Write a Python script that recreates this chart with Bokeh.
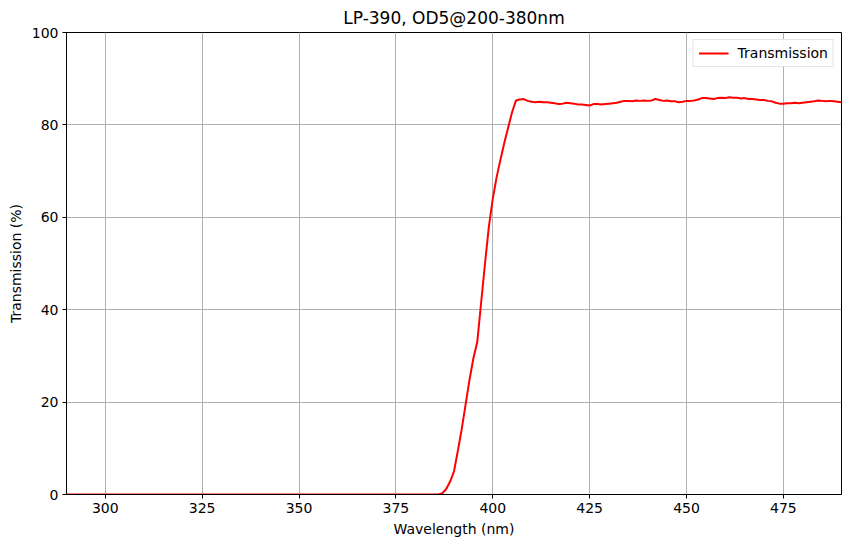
from bokeh.models import Range1d, Legend, LegendItem, FixedTicker
from bokeh.plotting import figure
from bokeh.embed import file_html
from bokeh.resources import INLINE

# flat (blocked) region, 0 % transmission
flat_nm = [290, 386]
flat_t = [0.0, 0.0]

# edge and pass band, 1 nm steps
edge_nm = list(range(387, 491))
edge_t = [
    0.3, 1.2, 2.8, 5.0, 9.5, 14.2, 19.5, 24.8, 29.5, 33.0,       # 387-396
    41.5, 50.0, 58.0, 64.0, 68.7, 72.5, 76.2, 79.5, 82.8, 85.3,  # 397-406
    85.5, 85.6, 85.2, 85.0, 84.9, 85.0, 84.9, 84.9, 84.8, 84.7,  # 407-416
    84.5, 84.6, 84.8, 84.7, 84.6, 84.4, 84.4, 84.3, 84.2, 84.5,  # 417-426
    84.5, 84.4, 84.5, 84.6, 84.7, 84.8, 85.0, 85.2, 85.2, 85.1,  # 427-436
    85.3, 85.2, 85.3, 85.2, 85.3, 85.6, 85.4, 85.2, 85.3, 85.1,  # 437-446
    85.1, 84.9, 85.0, 85.2, 85.2, 85.3, 85.5, 85.8, 85.8, 85.7,  # 447-456
    85.6, 85.8, 85.9, 85.8, 86.0, 85.9, 85.9, 85.7, 85.8, 85.6,  # 457-466
    85.6, 85.5, 85.4, 85.4, 85.2, 85.1, 84.8, 84.6, 84.6, 84.7,  # 467-476
    84.7, 84.8, 84.7, 84.8, 84.9, 85.0, 85.1, 85.3, 85.2, 85.1,  # 477-486
    85.2, 85.1, 85.0, 84.9,                                      # 487-490
]

x_ticks = [300, 325, 350, 375, 400, 425, 450, 475]
y_ticks = [0, 20, 40, 60, 80, 100]

wl = flat_nm + edge_nm
tr = flat_t + edge_t

FONT = "DejaVu Sans"

p = figure(width=850, height=547, output_backend="svg", toolbar_location=None,
           title="LP-390, OD5@200-380nm",
           x_range=Range1d(290, 490), y_range=Range1d(0, 100),
           min_border_left=66, min_border_right=9, min_border_bottom=53, min_border_top=32)

p.title.align = "center"
p.title.text_font = FONT
p.title.text_font_style = "normal"
p.title.text_font_size = "17px"
p.title.text_color = "black"

p.outline_line_color = "black"
p.outline_line_width = 1
p.background_fill_color = "white"
p.border_fill_color = "white"

for ax in (p.xaxis, p.yaxis):
    ax.axis_line_color = "black"
    ax.major_tick_line_color = "black"
    ax.major_tick_out = 4
    ax.major_tick_in = 0
    ax.minor_tick_line_color = None
    ax.major_label_text_font = FONT
    ax.major_label_text_font_size = "14px"
    ax.major_label_text_color = "black"
    ax.axis_label_text_font = FONT
    ax.axis_label_text_font_size = "14px"
    ax.axis_label_text_font_style = "normal"
    ax.axis_label_text_color = "black"

p.xaxis.ticker = FixedTicker(ticks=x_ticks)
p.yaxis.ticker = FixedTicker(ticks=y_ticks)
p.xaxis.axis_label = "Wavelength (nm)"
p.yaxis.axis_label = "Transmission (%)"
p.xaxis.major_label_standoff = 4
p.yaxis.major_label_standoff = 4
p.xaxis.axis_label_standoff = 5
p.yaxis.axis_label_standoff = 5

p.grid.grid_line_color = "#b0b0b0"
p.grid.grid_line_width = 1

r = p.line(wl, tr, line_color="red", line_width=2)

legend = Legend(items=[LegendItem(label="Transmission", renderers=[r])],
                location="top_right")
legend.label_text_font = FONT
legend.label_text_font_size = "14px"
legend.label_text_color = "black"
legend.border_line_color = "#cccccc"
legend.border_line_width = 1
legend.margin = 7
legend.padding = 5
legend.glyph_width = 30
legend.glyph_height = 14
legend.label_height = 14
legend.label_standoff = 9
legend.spacing = 0
p.add_layout(legend)

open("out.html", "w").write(file_html(p, INLINE))
